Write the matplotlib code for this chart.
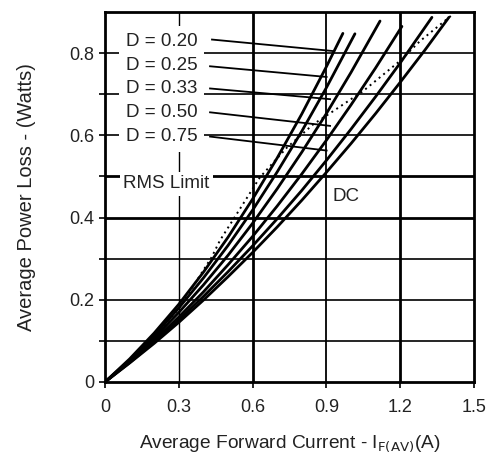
import matplotlib
matplotlib.use("Agg")
import matplotlib.pyplot as plt
import numpy as np

plt.rcParams['font.family'] = ['Liberation Sans', 'DejaVu Sans']

# Average forward current (A) and power loss (W)
i_d020 = [0, 0.1, 0.2, 0.3, 0.4, 0.5, 0.6, 0.7, 0.8, 0.9, 0.967]
p_d020 = [0, 0.056, 0.119, 0.189, 0.267, 0.352, 0.445, 0.545, 0.652, 0.767, 0.848]

i_d025 = [0, 0.1, 0.2, 0.3, 0.4, 0.5, 0.6, 0.7, 0.8, 0.9, 1.016]
p_d025 = [0, 0.053, 0.113, 0.180, 0.253, 0.332, 0.418, 0.511, 0.610, 0.716, 0.847]

i_d033 = [0, 0.1, 0.2, 0.3, 0.4, 0.5, 0.6, 0.7, 0.8, 0.9, 1.0, 1.118]
p_d033 = [0, 0.051, 0.107, 0.169, 0.236, 0.308, 0.386, 0.470, 0.559, 0.653, 0.753, 0.878]

i_d050 = [0, 0.1, 0.2, 0.3, 0.4, 0.5, 0.6, 0.7, 0.8, 0.9, 1.0, 1.1, 1.207]
p_d050 = [0, 0.049, 0.101, 0.158, 0.219, 0.285, 0.354, 0.428, 0.506, 0.588, 0.674, 0.764, 0.865]

i_d075 = [0, 0.1, 0.2, 0.3, 0.4, 0.5, 0.6, 0.7, 0.8, 0.9, 1.0, 1.1, 1.2, 1.329]
p_d075 = [0, 0.047, 0.097, 0.151, 0.208, 0.268, 0.331, 0.397, 0.466, 0.539, 0.615, 0.694, 0.776, 0.887]

i_dc = [0, 0.1, 0.2, 0.3, 0.4, 0.5, 0.6, 0.7, 0.8, 0.9, 1.0, 1.1, 1.2, 1.3, 1.398]
p_dc = [0, 0.046, 0.094, 0.145, 0.199, 0.256, 0.315, 0.377, 0.442, 0.510, 0.580, 0.653, 0.729, 0.807, 0.887]

i_dot = [0, 0.1, 0.2, 0.3, 0.434, 0.467, 0.63, 0.739, 0.847, 0.928, 1.05, 1.199, 1.28, 1.409]
p_dot = [0, 0.052, 0.110, 0.178, 0.304, 0.344, 0.498, 0.570, 0.627, 0.659, 0.708, 0.781, 0.829, 0.892]

duty_labels = ['D = 0.20', 'D = 0.25', 'D = 0.33', 'D = 0.50', 'D = 0.75']
label_y = [0.829, 0.771, 0.713, 0.655, 0.597]
leader_start = [(0.435, 0.833), (0.427, 0.768), (0.427, 0.714), (0.427, 0.656), (0.427, 0.597)]
leader_end = [(0.928, 0.805), (0.901, 0.742), (0.915, 0.688), (0.915, 0.623), (0.901, 0.563)]

fig = plt.figure(figsize=(4.92, 4.62), dpi=100)
ax = fig.add_axes([0.2134, 0.1732, 0.75, 0.8008])

ax.set_xlim(0, 1.5)
ax.set_ylim(0, 0.9)

# grid: verticals every 0.3, horizontals every 0.1 (some heavier)
v_width = {0.3: 1.0, 0.6: 2.0, 0.9: 1.3, 1.2: 2.0}
for xv, lw in v_width.items():
    ax.axvline(xv, color='black', lw=lw, zorder=1)
for yv in np.arange(0.1, 0.85, 0.1):
    lw = 2.0 if round(yv, 1) in (0.4, 0.5) else 1.2
    ax.axhline(yv, color='black', lw=lw, zorder=1)

curves = [(i_d020, p_d020), (i_d025, p_d025), (i_d033, p_d033),
          (i_d050, p_d050), (i_d075, p_d075), (i_dc, p_dc)]
for xs, ys in curves:
    ax.plot(xs, ys, color='black', lw=2.0, zorder=3, solid_capstyle='round')
ax.plot(i_dot, p_dot, color='black', lw=1.4, ls=(0, (1, 2)), zorder=3)

# duty cycle labels with leader lines
box = dict(facecolor='white', edgecolor='none', pad=5)
for txt, yv, (x0, y0), (x1, y1) in zip(duty_labels, label_y, leader_start, leader_end):
    ax.text(0.085, yv, txt, fontsize=13.5, color='#222222', va='center', ha='left',
            bbox=box, zorder=4)
    ax.plot([x0, x1], [y0, y1], color='black', lw=1.3, zorder=4)

ax.text(0.075, 0.482, 'RMS Limit', fontsize=13.5, color='#222222', va='center',
        ha='left', bbox=dict(facecolor='white', edgecolor='none', pad=2.5), zorder=4)
ax.text(0.925, 0.452, 'DC', fontsize=13.5, color='#222222', va='center', ha='left',
        zorder=4)

ax.set_xticks([0, 0.3, 0.6, 0.9, 1.2, 1.5])
ax.set_xticklabels(['0', '0.3', '0.6', '0.9', '1.2', '1.5'])
ax.set_yticks([0, 0.2, 0.4, 0.6, 0.8])
ax.set_yticklabels(['0', '0.2', '0.4', '0.6', '0.8'])
ax.set_yticks(np.arange(0, 0.9, 0.1), minor=True)
ax.tick_params(axis='both', labelsize=13, labelcolor='#222222', length=4,
               width=1.2, direction='out')
ax.tick_params(axis='x', pad=8)
ax.tick_params(axis='y', which='minor', length=4, width=1.2)

for s in ax.spines.values():
    s.set_linewidth(2.0)
    s.set_zorder(5)

ax.set_ylabel('Average Power Loss - (Watts)', fontsize=14.5, color='#222222', labelpad=24)
ax.set_xlabel('Average Forward Current - I$_{\\mathrm{F(AV)}}$(A)', fontsize=13.8,
              color='#222222', labelpad=13)

fig.savefig('out.png', dpi=100)
